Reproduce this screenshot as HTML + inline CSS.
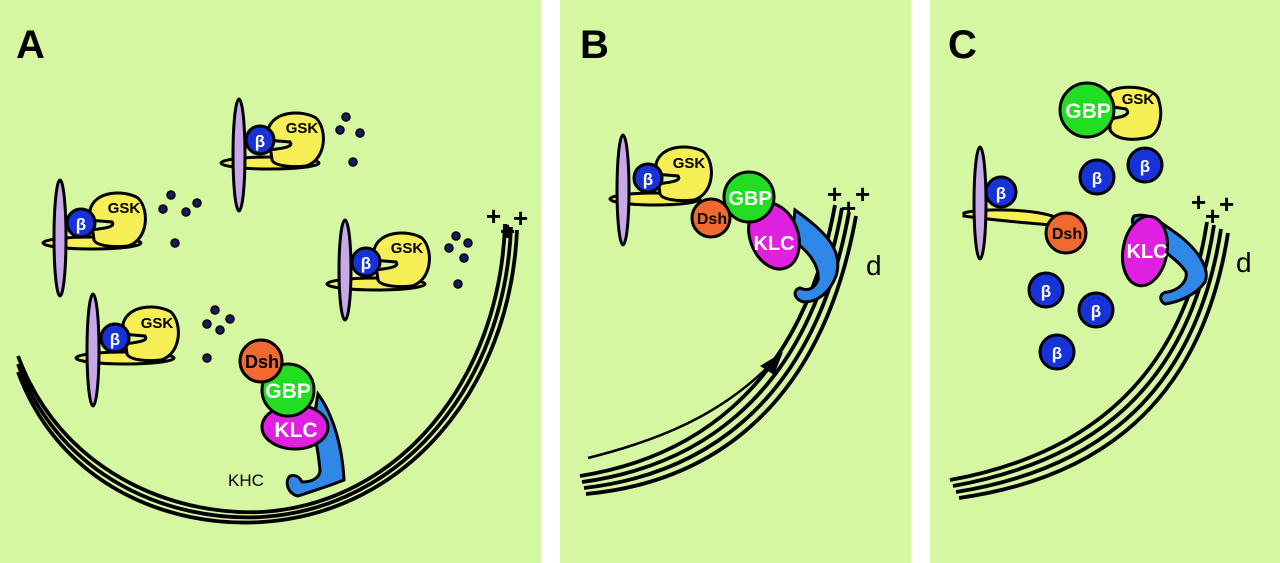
<!DOCTYPE html>
<html><head><meta charset="utf-8"><style>
html,body{margin:0;padding:0;background:#fff;}
svg{display:block;}
text{font-family:"Liberation Sans",sans-serif;}
.lbl{font-weight:bold;font-size:40px;fill:#000;}
.w{font-weight:bold;fill:#fff;text-anchor:middle;}
.k{font-weight:bold;fill:#000;text-anchor:middle;}
.o{stroke:#000;stroke-width:3;}
.mt{fill:none;stroke:#000;stroke-width:3.8;}
</style></head><body>
<svg width="1280" height="563" viewBox="0 0 1280 563" xmlns="http://www.w3.org/2000/svg">
<rect x="0" y="0" width="1280" height="563" fill="#fff"/>
<rect x="0" y="0" width="541" height="563" fill="#d6f7a2"/>
<rect x="560" y="0" width="351" height="563" fill="#d6f7a2"/>
<rect x="930" y="0" width="350" height="563" fill="#d6f7a2"/>

<text class="lbl" x="16" y="58">A</text>
<text class="lbl" x="580" y="58">B</text>
<text class="lbl" x="948" y="58">C</text>

<!-- Panel A microtubules -->
<g class="mt">
<path d="M18,356 C60,470 170,516 262,512 C400,503 500,380 505,224"/>
<path d="M18,364 C60,478 170,522 262,517 C402,508 505,385 511,227"/>
<path d="M18,372 C60,486 170,528 262,522 C405,513 510,390 517,230"/>
</g>
<g font-weight="bold" font-size="26" font-family="Liberation Sans">
<text x="486" y="225">+</text><text x="500" y="240">+</text><text x="513" y="227">+</text>
</g>

<!-- A1 -->
<g>
<ellipse class="o" cx="92" cy="243" rx="49" ry="6" fill="#f5ee55"/>
<path class="o" d="M90,210 C95,190 125,190 138,198 C150,210 148,240 128,246 C110,248 96,245 94,240 Z" fill="#f5ee55"/>
<path class="o" d="M88,220 L112,222 C115,226 110,228 90,230 Z" fill="#d6f7a2" stroke-width="2"/>
<ellipse class="o" cx="60" cy="238" rx="6" ry="58" fill="#c8a8e8"/>
<circle class="o" cx="81" cy="223" r="14" fill="#1533d6"/>
<text class="w" x="81" y="230" font-size="17">β</text>
<text class="k" x="124" y="213" font-size="15">GSK</text>
</g>
<!-- A2 -->
<g>
<ellipse class="o" cx="270" cy="163" rx="49" ry="6" fill="#f5ee55"/>
<path class="o" d="M268,130 C273,110 303,110 316,118 C328,130 326,160 306,166 C288,168 274,165 272,160 Z" fill="#f5ee55"/>
<path class="o" d="M266,140 L290,142 C293,146 288,148 268,150 Z" fill="#d6f7a2" stroke-width="2"/>
<ellipse class="o" cx="239" cy="155" rx="6" ry="56" fill="#c8a8e8"/>
<circle class="o" cx="260" cy="140" r="14" fill="#1533d6"/>
<text class="w" x="260" y="147" font-size="17">β</text>
<text class="k" x="302" y="133" font-size="15">GSK</text>
</g>
<!-- A3 -->
<g>
<ellipse class="o" cx="376" cy="284" rx="49" ry="6" fill="#f5ee55"/>
<path class="o" d="M374,250 C379,230 409,230 422,238 C434,250 432,280 412,286 C394,288 380,285 378,280 Z" fill="#f5ee55"/>
<path class="o" d="M372,260 L396,262 C399,266 394,268 374,270 Z" fill="#d6f7a2" stroke-width="2"/>
<ellipse class="o" cx="345" cy="270" rx="6" ry="50" fill="#c8a8e8"/>
<circle class="o" cx="366" cy="262" r="14" fill="#1533d6"/>
<text class="w" x="366" y="269" font-size="17">β</text>
<text class="k" x="407" y="253" font-size="15">GSK</text>
</g>
<!-- A4 -->
<g>
<ellipse class="o" cx="125" cy="358" rx="49" ry="6" fill="#f5ee55"/>
<path class="o" d="M123,324 C128,304 158,304 171,312 C183,324 181,354 161,360 C143,362 129,359 127,354 Z" fill="#f5ee55"/>
<path class="o" d="M121,334 L145,336 C148,340 143,342 123,344 Z" fill="#d6f7a2" stroke-width="2"/>
<ellipse class="o" cx="93" cy="350" rx="6" ry="56" fill="#c8a8e8"/>
<circle class="o" cx="115" cy="338" r="14" fill="#1533d6"/>
<text class="w" x="115" y="345" font-size="17">β</text>
<text class="k" x="157" y="328" font-size="15">GSK</text>
</g>
<!-- dots A -->
<g fill="#1a1a60" stroke="#000" stroke-width="1.5">
<circle cx="171" cy="195" r="4"/><circle cx="163" cy="209" r="4"/><circle cx="186" cy="212" r="4"/><circle cx="197" cy="203" r="4"/><circle cx="175" cy="243" r="4"/>
<circle cx="346" cy="117" r="4"/><circle cx="340" cy="130" r="4"/><circle cx="360" cy="133" r="4"/><circle cx="353" cy="162" r="4"/>
<circle cx="215" cy="310" r="4"/><circle cx="207" cy="324" r="4"/><circle cx="230" cy="319" r="4"/><circle cx="220" cy="330" r="4"/><circle cx="207" cy="358" r="4"/>
<circle cx="456" cy="236" r="4"/><circle cx="449" cy="248" r="4"/><circle cx="468" cy="243" r="4"/><circle cx="464" cy="258" r="4"/><circle cx="458" cy="284" r="4"/>
</g>
<!-- A motor -->
<path class="o" d="M318,394 C330,410 342,440 344,480 C332,485 310,492 298,496 C288,494 284,482 290,476 C296,474 300,478 302,482 C312,482 320,478 320,470 C318,450 316,440 312,430 Z" fill="#2f88e6"/>
<ellipse class="o" cx="295" cy="427" rx="33" ry="22" fill="#e020e0"/>
<text class="w" x="296" y="437" font-size="21">KLC</text>
<circle class="o" cx="288" cy="390" r="26" fill="#22dd22"/>
<text class="w" x="288" y="398" font-size="21">GBP</text>
<circle class="o" cx="261" cy="361" r="21" fill="#f06a30"/>
<text class="k" x="262" y="368" font-size="18" font-weight="normal">Dsh</text>
<text x="228" y="486" font-size="17">KHC</text>

<!-- Panel B -->
<g class="mt">
<path d="M580,476 C680,460 800,400 835,205"/>
<path d="M582,482 C684,468 806,410 842,208"/>
<path d="M584,488 C688,476 812,418 849,212"/>
<path d="M586,494 C692,484 818,426 856,216"/>
</g>
<path d="M588,458 C660,440 720,415 770,365" fill="none" stroke="#000" stroke-width="2.5"/>
<polygon points="783,352 760,366 774,375" fill="#000"/>
<g font-weight="bold" font-size="26" font-family="Liberation Sans">
<text x="827" y="203">+</text><text x="841" y="217">+</text><text x="855" y="203">+</text>
</g>
<text x="866" y="275" font-size="28">d</text>
<ellipse class="o" cx="655" cy="199" rx="45" ry="6" fill="#f5ee55"/>
<path class="o" d="M656,164 C661,144 691,144 704,152 C716,164 714,194 694,200 C676,202 662,199 660,194 Z" fill="#f5ee55"/>
<path class="o" d="M654,174 L678,176 C681,180 676,182 656,184 Z" fill="#d6f7a2" stroke-width="2"/>
<ellipse class="o" cx="623" cy="190" rx="6" ry="55" fill="#c8a8e8"/>
<circle class="o" cx="648" cy="178" r="14" fill="#1533d6"/>
<text class="w" x="648" y="185" font-size="17">β</text>
<text class="k" x="689" y="168" font-size="15">GSK</text>
<path class="o" d="M795,210 C820,228 845,248 836,276 C830,292 818,302 804,302 C794,300 792,290 800,288 C808,292 815,288 818,280 C820,266 808,250 792,240 Z" fill="#2f88e6"/>
<ellipse class="o" cx="774" cy="236" rx="24" ry="34" fill="#e020e0" transform="rotate(-20 774 236)"/>
<text class="w" x="774" y="250" font-size="20">KLC</text>
<circle class="o" cx="749" cy="197" r="25" fill="#22dd22"/>
<text class="w" x="750" y="205" font-size="20">GBP</text>
<circle class="o" cx="711" cy="218" r="19" fill="#f06a30"/>
<text class="k" x="712" y="224" font-size="16" font-weight="normal">Dsh</text>

<!-- Panel C -->
<g class="mt">
<path d="M950,480 C1060,460 1180,400 1207,222"/>
<path d="M953,486 C1064,466 1186,410 1214,225"/>
<path d="M956,492 C1068,474 1192,418 1221,229"/>
<path d="M959,498 C1072,482 1198,426 1228,233"/>
</g>
<g font-weight="bold" font-size="26" font-family="Liberation Sans">
<text x="1191" y="211">+</text><text x="1205" y="225">+</text><text x="1219" y="213">+</text>
</g>
<text x="1236" y="272" font-size="28">d</text>
<path class="o" d="M1110,92 C1120,84 1152,86 1158,98 C1164,115 1160,136 1145,138 C1130,141 1115,139 1110,130 Z" fill="#f5ee55"/>
<path class="o" d="M1108,106 L1126,109 C1131,114 1125,117 1108,119 Z" fill="#d6f7a2" stroke-width="2"/>
<text class="k" x="1138" y="104" font-size="15">GSK</text>
<circle class="o" cx="1087" cy="110" r="27" fill="#22dd22"/>
<text class="w" x="1088" y="118" font-size="21">GBP</text>
<path class="o" d="M964,213 C980,208 1040,208 1062,220 L1062,226 C1040,224 990,220 964,216 Z" fill="#f5ee55"/>
<ellipse class="o" cx="980" cy="203" rx="6" ry="56" fill="#c8a8e8"/>
<circle class="o" cx="1001" cy="192" r="15" fill="#1533d6"/>
<text class="w" x="1001" y="199" font-size="17">β</text>
<circle class="o" cx="1066" cy="233" r="20" fill="#f06a30"/>
<text class="k" x="1067" y="239" font-size="16" font-weight="normal">Dsh</text>
<path class="o" d="M1134,216 C1150,212 1160,222 1180,236 C1200,252 1210,270 1205,282 C1195,296 1178,302 1165,304 C1158,300 1160,292 1168,292 C1178,290 1188,282 1186,272 C1180,262 1165,252 1150,240 C1140,232 1128,225 1134,216 Z" fill="#2f88e6"/>
<ellipse class="o" cx="1145" cy="251" rx="22" ry="35" fill="#e020e0" transform="rotate(10 1145 251)"/>
<text class="w" x="1147" y="258" font-size="20">KLC</text>
<g>
<circle class="o" cx="1097" cy="177" r="17" fill="#1533d6"/><text class="w" x="1097" y="184" font-size="17">β</text>
<circle class="o" cx="1145" cy="165" r="17" fill="#1533d6"/><text class="w" x="1145" y="172" font-size="17">β</text>
<circle class="o" cx="1046" cy="290" r="17" fill="#1533d6"/><text class="w" x="1046" y="297" font-size="17">β</text>
<circle class="o" cx="1096" cy="310" r="17" fill="#1533d6"/><text class="w" x="1096" y="317" font-size="17">β</text>
<circle class="o" cx="1057" cy="352" r="17" fill="#1533d6"/><text class="w" x="1057" y="359" font-size="17">β</text>
</g>
</svg>
</body></html>
